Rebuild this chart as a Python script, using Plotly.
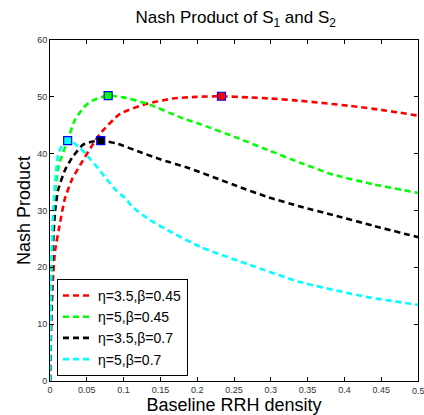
import plotly.graph_objects as go

# ---- data ----
red_x = [0, 0.001, 0.002, 0.004, 0.007, 0.0136, 0.02, 0.03, 0.041, 0.055, 0.068, 0.095, 0.132, 0.167, 0.2, 0.232, 0.27, 0.3, 0.34, 0.408, 0.45, 0.476, 0.5]
red_y = [0, 6, 11, 17.8, 23, 27.8, 32, 35.5, 38, 41, 43.5, 47.0, 48.8, 49.7, 50.0, 50.1, 49.9, 49.7, 49.3, 48.4, 47.7, 47.2, 46.7]

green_x = [0, 0.001, 0.002, 0.004, 0.007, 0.012, 0.023, 0.034, 0.045, 0.054, 0.066, 0.079, 0.1, 0.132, 0.181, 0.204, 0.25, 0.295, 0.34, 0.385, 0.44, 0.5]
green_y = [0, 12, 20, 28, 33.6, 38, 42, 46, 48, 49.1, 49.8, 50.2, 49.9, 48.8, 46.2, 45.2, 43, 40.7, 38.4, 36.3, 34.6, 33.1]

black_x = [0, 0.001, 0.002, 0.004, 0.007, 0.011, 0.02, 0.03, 0.045, 0.057, 0.069, 0.09, 0.122, 0.15, 0.19, 0.254, 0.295, 0.34, 0.385, 0.44, 0.5]
black_y = [0, 9, 16, 24, 30, 33.6, 37, 39.3, 41.6, 42.1, 42.3, 41.8, 40.3, 39, 37.4, 34.3, 32.4, 30.7, 29.2, 27.3, 25.3]

cyan_x = [0, 0.001, 0.002, 0.004, 0.007, 0.011, 0.017, 0.024, 0.032, 0.041, 0.055, 0.068, 0.077, 0.09, 0.102, 0.113, 0.136, 0.159, 0.204, 0.272, 0.34, 0.43, 0.5]
cyan_y = [0, 12, 19, 28.9, 35, 39.8, 41.6, 42.3, 41.9, 41, 39, 37, 35.5, 33.5, 32.2, 30.5, 28.3, 26.6, 23.6, 20.4, 17.4, 14.8, 13.4]

labels = ["η=3.5,β=0.45", "η=5,β=0.45", "η=3.5,β=0.7", "η=5,β=0.7"]
colors = ["#ff0000", "#00ff00", "#000000", "#00ffff"]

peak_x = [0.233, 0.079, 0.069, 0.024]
peak_y = [50.1, 50.2, 42.3, 42.3]

x_ticks = [0, 0.05, 0.1, 0.15, 0.2, 0.25, 0.3, 0.35, 0.4, 0.45, 0.5]
x_tick_text = ["0", "0.05", "0.1", "0.15", "0.2", "0.25", "0.3", "0.35", "0.4", "0.45", "0.5"]
y_ticks = [0, 10, 20, 30, 40, 50, 60]

series = [(red_x, red_y), (green_x, green_y), (black_x, black_y), (cyan_x, cyan_y)]

fig = go.Figure()
for (xs, ys), lab, col in zip(series, labels, colors):
    fig.add_trace(go.Scatter(
        x=xs, y=ys, mode="lines", name=lab,
        line=dict(color=col, width=2.6, dash="6px,4px", shape="spline", smoothing=0.5),
    ))
for px, py, col in zip(peak_x, peak_y, colors):
    fig.add_trace(go.Scatter(
        x=[px], y=[py], mode="markers", showlegend=False,
        marker=dict(symbol="square", size=8, color=col, line=dict(color="#0000ff", width=1.2)),
    ))

# last x tick label (plotly drops it since it overflows; reference shows it clipped at edge)
fig.add_annotation(
    x=x_ticks[-1], xref="x", y=0, yref="paper", yshift=-3, yanchor="top", xanchor="center",
    text=x_tick_text[-1], showarrow=False, font=dict(size=9, color="#333"),
)

fig.update_layout(
    width=424, height=415,
    margin=dict(l=50, r=6, t=40, b=34, autoexpand=False),
    paper_bgcolor="white", plot_bgcolor="white",
    font=dict(family="Liberation Sans, Arial, sans-serif", color="#000"),
    title=dict(text="Nash Product of S<sub>1</sub> and S<sub>2</sub>", x=0.556, xanchor="center",
               y=0.958, yanchor="middle", font=dict(size=17)),
    legend=dict(x=0.019, y=0.015, xanchor="left", yanchor="bottom",
                bordercolor="#000", borderwidth=1, bgcolor="white",
                font=dict(size=14), tracegroupgap=0, itemwidth=30),
    showlegend=True,
)
fig.update_xaxes(
    range=[0, 0.5], tickvals=x_ticks, ticktext=x_tick_text, automargin=False,
    ticks="inside", ticklen=4, tickcolor="#000", mirror="ticks",
    showline=True, linecolor="#000", linewidth=1, showgrid=False, zeroline=False,
    tickfont=dict(size=9, color="#333"),
    title=dict(text="Baseline RRH density", font=dict(size=18), standoff=0),
)
fig.update_yaxes(
    range=[0, 60], tickvals=y_ticks, automargin=False,
    ticks="inside", ticklen=4, tickcolor="#000", mirror="ticks",
    showline=True, linecolor="#000", linewidth=1, showgrid=False, zeroline=False,
    tickfont=dict(size=9, color="#333"),
    title=dict(text="Nash Product", font=dict(size=18), standoff=1),
)

fig.write_html("out.html", config={"displayModeBar": False},
               post_script="document.body.style.margin='0';")
